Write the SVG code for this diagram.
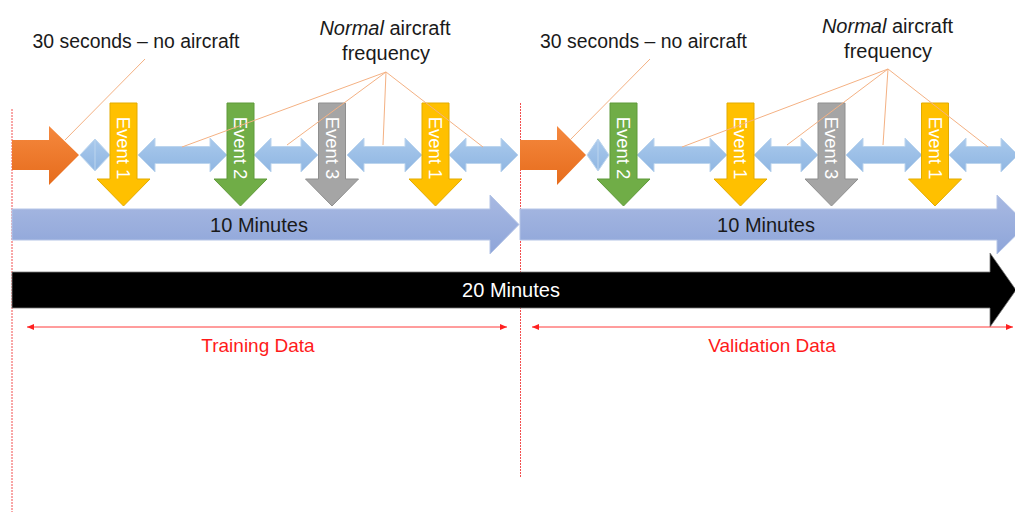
<svg xmlns="http://www.w3.org/2000/svg" width="1015" height="512" viewBox="0 0 1015 512">
  <style>
    .lbl { font-family: "Liberation Sans", Arial, sans-serif; font-size: 20px; fill: #1a1a1a; }
    .quietlbl { font-size: 19.4px; }
    .evt { font-family: "Liberation Sans", Arial, sans-serif; font-size: 18.5px; fill: #ffffff; text-anchor: middle; }
    .red { font-family: "Liberation Sans", Arial, sans-serif; font-size: 19px; fill: #ff1a1a; text-anchor: middle; }
    .gap { fill: url(#gapFill); stroke: #bcd5ee; stroke-width: 1; }
    .yellow { fill: #ffc000; stroke: #e3ab00; stroke-width: 1; }
    .green { fill: #70ad47; stroke: #5f9a3a; stroke-width: 1; }
    .gray { fill: #a5a5a5; stroke: #8f8f8f; stroke-width: 1; }
    .quiet { fill: url(#quietFill); }
    .ten { fill: url(#tenFill); stroke: #b4c4e6; stroke-width: 1; }
    .callout { stroke: #f4b183; stroke-width: 1; fill: none; }
    .split { stroke: #f03a3a; stroke-width: 0.9; stroke-dasharray: 2 1; fill: none; }
    .span { stroke: #ff3b3b; stroke-width: 1; fill: none; marker-start: url(#tipStart); marker-end: url(#tipEnd); }
  </style>
  <defs>
    <linearGradient id="gapFill" x1="0" y1="0" x2="0" y2="1">
      <stop offset="0" stop-color="#a9c9ec"/>
      <stop offset="1" stop-color="#8fb6e2"/>
    </linearGradient>
    <linearGradient id="quietFill" x1="0" y1="0" x2="0" y2="1">
      <stop offset="0" stop-color="#f5883e"/>
      <stop offset="1" stop-color="#e66c1c"/>
    </linearGradient>
    <linearGradient id="tenFill" x1="0" y1="0" x2="0" y2="1">
      <stop offset="0" stop-color="#a8b9e2"/>
      <stop offset="1" stop-color="#8ea5d9"/>
    </linearGradient>
    <marker id="tipEnd" markerWidth="8" markerHeight="6" refX="7" refY="3" orient="auto" markerUnits="userSpaceOnUse">
      <path d="M0,0 L7,3 L0,6 Z" fill="#ff2020"/>
    </marker>
    <marker id="tipStart" markerWidth="8" markerHeight="6" refX="0" refY="3" orient="auto" markerUnits="userSpaceOnUse">
      <path d="M7,0 L0,3 L7,6 Z" fill="#ff2020"/>
    </marker>
    <path id="down" d="M-13.5,0 H13.5 V76 H26.5 L0,103 L-26.5,76 H-13.5 Z"/>
  </defs>

  <!-- split markers between the two halves -->
  <g id="dividers">
    <line class="split" x1="12" y1="109" x2="12" y2="512"/>
    <line class="split" x1="520.5" y1="103" x2="520.5" y2="478"/>
  </g>

  <!-- gaps between events (normal aircraft frequency) -->
  <g id="gaps">
    <polygon class="gap" points="80,155 95,139 110,155 95,171"/>
    <line x1="95" y1="140" x2="95" y2="170" stroke="#bcd5ee" stroke-width="1"/>
    <polygon class="gap" points="138,155 155,138 155,146.5 210,146.5 210,138 227,155 210,172 210,163.5 155,163.5 155,172"/>
    <polygon class="gap" points="254,155 271,138 271,146.5 301,146.5 301,138 318,155 301,172 301,163.5 271,163.5 271,172"/>
    <polygon class="gap" points="347,155 364,138 364,146.5 405,146.5 405,138 422,155 405,172 405,163.5 364,163.5 364,172"/>
    <polygon class="gap" points="449,155 466,138 466,146.5 501,146.5 501,138 518,155 501,172 501,163.5 466,163.5 466,172"/>
    <polygon class="gap" points="587,155 598,139 609,155 598,171"/>
    <line x1="598" y1="140" x2="598" y2="170" stroke="#bcd5ee" stroke-width="1"/>
    <polygon class="gap" points="637,155 654,138 654,146.5 710,146.5 710,138 727,155 710,172 710,163.5 654,163.5 654,172"/>
    <polygon class="gap" points="754,155 771,138 771,146.5 801,146.5 801,138 818,155 801,172 801,163.5 771,163.5 771,172"/>
    <polygon class="gap" points="846,155 863,138 863,146.5 905,146.5 905,138 922,155 905,172 905,163.5 863,163.5 863,172"/>
    <polygon class="gap" points="949,155 966,138 966,146.5 1001,146.5 1001,138 1018,155 1001,172 1001,163.5 966,163.5 966,172"/>
  </g>

  <!-- 30 second quiet lead-in -->
  <g id="quiet-left">
    <polygon class="quiet" points="12,140 49,140 49,126 79,155 49,185 49,170 12,170"/>
  </g>
  <g id="quiet-right">
    <polygon class="quiet" points="520,140 557,140 557,126 586,155 557,185 557,170 520,170"/>
  </g>

  <!-- events -->
  <g id="evt-l1" transform="translate(123.5,103)">
    <use href="#down" class="yellow"/>
    <text class="evt" transform="translate(-6.5,45) rotate(90)">Event 1</text>
  </g>
  <g id="evt-l2" transform="translate(240.5,103)">
    <use href="#down" class="green"/>
    <text class="evt" transform="translate(-6.5,45) rotate(90)">Event 2</text>
  </g>
  <g id="evt-l3" transform="translate(332,103)">
    <use href="#down" class="gray"/>
    <text class="evt" transform="translate(-6.5,45) rotate(90)">Event 3</text>
  </g>
  <g id="evt-l4" transform="translate(435.5,103)">
    <use href="#down" class="yellow"/>
    <text class="evt" transform="translate(-6.5,45) rotate(90)">Event 1</text>
  </g>
  <g id="evt-r1" transform="translate(623.5,103)">
    <use href="#down" class="green"/>
    <text class="evt" transform="translate(-6.5,45) rotate(90)">Event 2</text>
  </g>
  <g id="evt-r2" transform="translate(740.5,103)">
    <use href="#down" class="yellow"/>
    <text class="evt" transform="translate(-6.5,45) rotate(90)">Event 1</text>
  </g>
  <g id="evt-r3" transform="translate(831.5,103)">
    <use href="#down" class="gray"/>
    <text class="evt" transform="translate(-6.5,45) rotate(90)">Event 3</text>
  </g>
  <g id="evt-r4" transform="translate(935,103)">
    <use href="#down" class="yellow"/>
    <text class="evt" transform="translate(-6.5,45) rotate(90)">Event 1</text>
  </g>

  <!-- annotation labels -->
  <g id="note-quiet-left">
    <text class="lbl quietlbl" x="136" y="48" text-anchor="middle">30 seconds – no aircraft</text>
  </g>
  <g id="note-normal-left">
    <text class="lbl" x="385" y="35" text-anchor="middle"><tspan font-style="italic">Normal</tspan> aircraft</text>
    <text class="lbl" x="386" y="60" text-anchor="middle">frequency</text>
  </g>
  <g id="note-quiet-right">
    <text class="lbl quietlbl" x="643.5" y="48" text-anchor="middle">30 seconds – no aircraft</text>
  </g>
  <g id="note-normal-right">
    <text class="lbl" x="887.5" y="33" text-anchor="middle"><tspan font-style="italic">Normal</tspan> aircraft</text>
    <text class="lbl" x="888" y="58" text-anchor="middle">frequency</text>
  </g>

  <!-- callout leaders -->
  <g id="connectors">
    <line class="callout" x1="145" y1="59" x2="65" y2="140"/>
    <line class="callout" x1="386" y1="72" x2="182" y2="147"/>
    <line class="callout" x1="386" y1="72" x2="287" y2="145"/>
    <line class="callout" x1="386" y1="72" x2="383" y2="145"/>
    <line class="callout" x1="386" y1="72" x2="483" y2="147"/>
    <line class="callout" x1="650" y1="59" x2="570" y2="140"/>
    <line class="callout" x1="888" y1="69" x2="682" y2="147"/>
    <line class="callout" x1="888" y1="69" x2="787" y2="145"/>
    <line class="callout" x1="888" y1="69" x2="883" y2="145"/>
    <line class="callout" x1="888" y1="69" x2="988" y2="147"/>
  </g>

  <!-- 10 minute blocks -->
  <g id="ten-left">
    <polygon class="ten" points="12,209 490,209 490,195 519,224.5 490,254 490,240 12,240"/>
    <text class="lbl" x="259" y="232" text-anchor="middle">10 Minutes</text>
  </g>
  <g id="ten-right">
    <polygon class="ten" points="520,209 997,209 997,195 1027,224.5 997,254 997,240 520,240"/>
    <text class="lbl" x="766" y="232" text-anchor="middle">10 Minutes</text>
  </g>

  <!-- full 20 minute recording -->
  <g id="twenty">
    <polygon points="12,272 990,272 990,253 1016,290 990,327 990,308 12,308" fill="#000000" stroke="#7a7a7a" stroke-width="0.8"/>
    <text class="lbl" x="511" y="297" text-anchor="middle" style="fill:#ffffff">20 Minutes</text>
  </g>

  <!-- data split spans -->
  <g id="training">
    <line class="span" x1="27" y1="327" x2="507" y2="327"/>
    <text class="red" x="258" y="352">Training Data</text>
  </g>
  <g id="validation">
    <line class="span" x1="532" y1="327" x2="1013" y2="327"/>
    <text class="red" x="772" y="352">Validation Data</text>
  </g>
</svg>
